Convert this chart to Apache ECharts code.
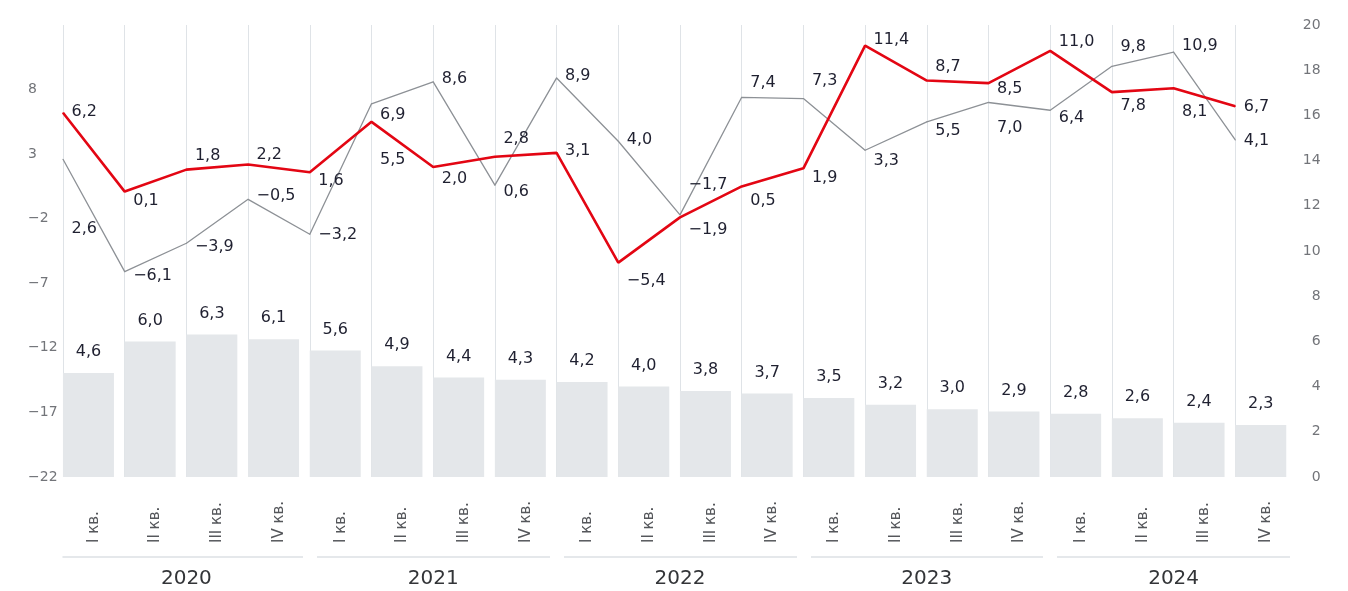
<!DOCTYPE html>
<html style="height: 100%">
<head>
    <meta charset="utf-8">
</head>
<body style="height: 100%; margin: 0; background: #fff">
    <div id="container" style="width: 1348px; height: 591px"></div>
    <script src="https://cdn.jsdelivr.net/npm/echarts@6/dist/echarts.min.js"></script>
    <script type="text/javascript">

// quarters and years on the bottom axis
var quarters = ['I кв.', 'II кв.', 'III кв.', 'IV кв.', 'I кв.', 'II кв.', 'III кв.', 'IV кв.',
                'I кв.', 'II кв.', 'III кв.', 'IV кв.', 'I кв.', 'II кв.', 'III кв.', 'IV кв.',
                'I кв.', 'II кв.', 'III кв.', 'IV кв.'];
var years = ['2020', '2021', '2022', '2023', '2024'];

// bars (right axis)
var barValues = [4.6, 6.0, 6.3, 6.1, 5.6, 4.9, 4.4, 4.3, 4.2, 4.0, 3.8, 3.7, 3.5, 3.2, 3.0, 2.9, 2.8, 2.6, 2.4, 2.3];
// lines (left axis)
var redValues = [6.2, 0.1, 1.8, 2.2, 1.6, 5.5, 2.0, 2.8, 3.1, -5.4, -1.9, 0.5, 1.9, 11.4, 8.7, 8.5, 11.0, 7.8, 8.1, 6.7];
var greyValues = [2.6, -6.1, -3.9, -0.5, -3.2, 6.9, 8.6, 0.6, 8.9, 4.0, -1.7, 7.4, 7.3, 3.3, 5.5, 7.0, 6.4, 9.8, 10.9, 4.1];

// vertical shift of each line label (px)
var redLabelDy = [-1, 9, -14, -10, 9, 38, 12, -18, -2, 18, 12, 14, 9, -6, -14, 6, -9, 14, 24, 0];
var greyLabelDy = [70, 4, 4, -3, 1, 11, -3, 7, -2, -1, -30, -14, -18, 11, 9, 25, 8, -19, -6, 1];

var dom = document.getElementById('container');
var myChart = echarts.init(dom);

function fmt(v) {
    return v.toFixed(1).replace('.', ',').replace('-', '\u2212');
}

function lineData(values, dys) {
    return values.map(function (v, i) {
        return { value: v, label: { offset: [0, dys[i]] } };
    });
}

var labelFont = { fontFamily: 'DejaVu Sans', fontSize: 16, color: '#1f2030' };
var tickFont = { fontFamily: 'DejaVu Sans', fontSize: 14, color: '#727479' };
// skip the tick on the first boundary so the year line starts at the grid edge
var innerBounds = function (i) { return i > 0; };

var option = {
    animation: false,
    grid: [
        { left: 63, right: 51, top: 25, bottom: 114 },
        { left: 57.6, right: 56.4, top: 25, bottom: 114 }
    ],
    xAxis: [
        {   // line positions, vertical grid lines
            gridIndex: 0, type: 'category', data: quarters.concat(['']), boundaryGap: false,
            axisLine: { show: false }, axisTick: { show: false }, axisLabel: { show: false },
            splitLine: { show: true, interval: function (i) { return i < 20; }, lineStyle: { color: '#dfe3e7', width: 1 } }
        },
        {   // quarter labels
            gridIndex: 0, type: 'category', data: quarters, boundaryGap: true, position: 'bottom',
            axisLine: { show: false }, axisTick: { show: false },
            axisLabel: { interval: 0, rotate: 90, align: 'left', verticalAlign: 'middle', margin: 66,
                         fontFamily: 'DejaVu Sans', fontSize: 15, color: '#55575b' }
        },
        {   // years
            gridIndex: 0, type: 'category', data: years, boundaryGap: true, position: 'bottom', offset: 80,
            axisLine: { show: true, lineStyle: { color: '#dde1e5', width: 1.5 } },
            axisTick: { show: true, interval: innerBounds, length: 3, lineStyle: { color: '#ffffff', width: 14 } },
            axisLabel: { margin: 12, fontFamily: 'DejaVu Sans', fontSize: 20, color: '#333538' }
        },
        {   // covers the other half of the year line at the gaps
            gridIndex: 0, type: 'category', data: years, boundaryGap: true, position: 'bottom', offset: 80,
            axisLine: { show: false },
            axisTick: { show: true, interval: innerBounds, inside: true, length: 3, lineStyle: { color: '#ffffff', width: 14 } },
            axisLabel: { show: false }
        },
        {   // bars
            gridIndex: 1, type: 'category', data: quarters, boundaryGap: true,
            axisLine: { show: false }, axisTick: { show: false }, axisLabel: { show: false }, splitLine: { show: false }
        }
    ],
    yAxis: [
        {
            gridIndex: 0, type: 'value', min: -22, max: 13, interval: 5, position: 'left',
            axisLine: { show: false }, axisTick: { show: false }, splitLine: { show: false },
            axisLabel: Object.assign({ align: 'left', margin: 35,
                formatter: function (v) { return v === 13 ? '' : String(v).replace('-', '\u2212'); } }, tickFont)
        },
        {
            gridIndex: 1, type: 'value', min: 0, max: 20, interval: 2, position: 'right',
            axisLine: { show: false }, axisTick: { show: false }, splitLine: { show: false },
            axisLabel: Object.assign({ align: 'right', margin: 29 }, tickFont)
        }
    ],
    series: [
        {
            type: 'bar', xAxisIndex: 4, yAxisIndex: 1, data: barValues, barWidth: 51,
            itemStyle: { color: '#e4e7ea' },
            label: Object.assign({ show: true, position: 'top', distance: 13,
                formatter: function (p) { return fmt(p.value); } }, labelFont),
            emphasis: { disabled: true }
        },
        {
            type: 'line', xAxisIndex: 0, yAxisIndex: 0, data: lineData(greyValues, greyLabelDy),
            symbol: 'circle', symbolSize: 1, showSymbol: true,
            lineStyle: { color: '#8d9196', width: 1.3 }, itemStyle: { color: '#8d9196' },
            label: Object.assign({ show: true, position: 'right', distance: 8,
                formatter: function (p) { return fmt(p.value); } }, labelFont),
            emphasis: { disabled: true }
        },
        {
            type: 'line', xAxisIndex: 0, yAxisIndex: 0, data: lineData(redValues, redLabelDy),
            symbol: 'circle', symbolSize: 1, showSymbol: true,
            lineStyle: { color: '#e30613', width: 2.6 }, itemStyle: { color: '#e30613' },
            label: Object.assign({ show: true, position: 'right', distance: 8,
                formatter: function (p) { return fmt(p.value); } }, labelFont),
            emphasis: { disabled: true }
        }
    ]
};

if (option && typeof option === 'object') {
    myChart.setOption(option, true);
}
    </script>
</body>
</html>
